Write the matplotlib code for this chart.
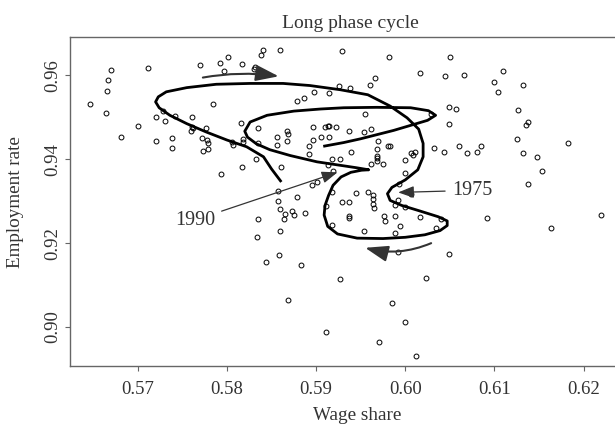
import matplotlib
matplotlib.use("Agg")
import matplotlib.pyplot as plt
from matplotlib.patches import ArrowStyle

plt.rcParams['font.family'] = ['Liberation Serif', 'DejaVu Serif']

# observed (wage share, employment rate) pairs
wage_share = [
    0.5647, 0.5670, 0.5667, 0.5666, 0.5664, 0.5681, 0.5700, 0.5711, 0.5721, 0.5721,
    0.5728, 0.5731, 0.5742, 0.5738, 0.5738, 0.5761, 0.5761, 0.5762, 0.5760, 0.5770,
    0.5777, 0.5772, 0.5778, 0.5779, 0.5779, 0.5773, 0.5784, 0.5793, 0.5792, 0.5801,
    0.5797, 0.5817, 0.5830, 0.5832, 0.5838, 0.5840, 0.5860, 0.5816, 0.5806, 0.5807,
    0.5818, 0.5818, 0.5835, 0.5835, 0.5833, 0.5817, 0.5861, 0.5857, 0.5857, 0.5879,
    0.5886, 0.5898, 0.5879, 0.5895, 0.5901, 0.5897, 0.5897, 0.5892, 0.5892, 0.5856,
    0.5856, 0.5867, 0.5868, 0.5867, 0.5859, 0.5873, 0.5865, 0.5875, 0.5887, 0.5835,
    0.5864, 0.5859, 0.5834, 0.5858, 0.5844, 0.5883, 0.5868, 0.5911, 0.5929, 0.5915,
    0.5926, 0.5906, 0.5910, 0.5913, 0.5915, 0.5922, 0.5914, 0.5918, 0.5927, 0.5919,
    0.5913, 0.5918, 0.5982, 0.6050, 0.6017, 0.6044, 0.6066, 0.5966, 0.5960, 0.5938,
    0.5955, 0.6029, 0.6049, 0.6057, 0.6049, 0.5937, 0.5954, 0.5962, 0.5969, 0.5939,
    0.5968, 0.5981, 0.5983, 0.5968, 0.5968, 0.5968, 0.5962, 0.5975, 0.6006, 0.6009,
    0.6011, 0.6000, 0.6000, 0.5993, 0.6006, 0.6032, 0.6043, 0.6060, 0.6069, 0.6080,
    0.6085, 0.5945, 0.5958, 0.5964, 0.5964, 0.5929, 0.5937, 0.5992, 0.6110, 0.6100,
    0.6132, 0.6104, 0.6126, 0.6138, 0.6135, 0.6125, 0.6183, 0.6132, 0.6148, 0.6153,
    0.6138, 0.5911, 0.5937, 0.5937, 0.5918, 0.5954, 0.5964, 0.5965, 0.5976, 0.5977,
    0.5988, 0.5988, 0.5994, 0.5988, 0.6000, 0.6016, 0.6035, 0.6040, 0.5992, 0.6049,
    0.6092, 0.6163, 0.6220, 0.5927, 0.6023, 0.5985, 0.6000, 0.5970, 0.6012,
]
employment_rate = [
    0.9533, 0.9613, 0.9590, 0.9564, 0.9511, 0.9453, 0.9480, 0.9617, 0.9500, 0.9444,
    0.9515, 0.9491, 0.9504, 0.9451, 0.9428, 0.9500, 0.9477, 0.9475, 0.9468, 0.9624,
    0.9474, 0.9451, 0.9447, 0.9438, 0.9424, 0.9419, 0.9533, 0.9364, 0.9630, 0.9643,
    0.9611, 0.9627, 0.9616, 0.9620, 0.9648, 0.9660, 0.9660, 0.9487, 0.9442, 0.9435,
    0.9448, 0.9442, 0.9474, 0.9440, 0.9401, 0.9382, 0.9381, 0.9325, 0.9301, 0.9538,
    0.9546, 0.9561, 0.9311, 0.9339, 0.9345, 0.9477, 0.9447, 0.9432, 0.9413, 0.9454,
    0.9434, 0.9467, 0.9460, 0.9444, 0.9281, 0.9277, 0.9270, 0.9267, 0.9271, 0.9258,
    0.9258, 0.9228, 0.9215, 0.9172, 0.9154, 0.9148, 0.9065, 0.8989, 0.9658, 0.9558,
    0.9575, 0.9454, 0.9477, 0.9479, 0.9480, 0.9477, 0.9454, 0.9401, 0.9401, 0.9371,
    0.9387, 0.9321, 0.9644, 0.9644, 0.9607, 0.9598, 0.9600, 0.9594, 0.9577, 0.9570,
    0.9507, 0.9507, 0.9524, 0.9521, 0.9484, 0.9468, 0.9464, 0.9472, 0.9444, 0.9417,
    0.9424, 0.9431, 0.9431, 0.9409, 0.9404, 0.9397, 0.9388, 0.9388, 0.9414, 0.9411,
    0.9418, 0.9398, 0.9367, 0.9341, 0.9317, 0.9428, 0.9418, 0.9431, 0.9414, 0.9418,
    0.9432, 0.9319, 0.9323, 0.9316, 0.9305, 0.9298, 0.9298, 0.9304, 0.9610, 0.9585,
    0.9578, 0.9561, 0.9518, 0.9488, 0.9481, 0.9448, 0.9438, 0.9415, 0.9405, 0.9371,
    0.9341, 0.9289, 0.9264, 0.9261, 0.9244, 0.9228, 0.9294, 0.9284, 0.9265, 0.9252,
    0.9291, 0.9264, 0.9241, 0.9224, 0.9286, 0.9262, 0.9237, 0.9258, 0.9178, 0.9175,
    0.9261, 0.9235, 0.9268, 0.9114, 0.9118, 0.9058, 0.9012, 0.8965, 0.8931,
]

# smoothed long-phase trajectory
path_wage = [
    0.5861, 0.5850, 0.5841, 0.5822, 0.5800, 0.5777, 0.5755, 0.5736, 0.5724, 0.5720,
    0.5723, 0.5732, 0.5755, 0.5788, 0.5826, 0.5863, 0.5893, 0.5927, 0.5958, 0.5983,
    0.6002, 0.6015, 0.6020, 0.6020, 0.6014, 0.6000, 0.5985, 0.5980, 0.5983, 0.5996,
    0.6016, 0.6037, 0.6047, 0.6047, 0.6039, 0.6022, 0.6000, 0.5975, 0.5946, 0.5924,
    0.5913, 0.5909, 0.5910, 0.5914, 0.5919, 0.5928, 0.5939, 0.5951, 0.5959, 0.5945,
    0.5923, 0.5901, 0.5871, 0.5848, 0.5833, 0.5823, 0.5820, 0.5826, 0.5845, 0.5875,
    0.5905, 0.5931, 0.5968, 0.6006, 0.6026, 0.6034, 0.6025, 0.5987, 0.5950, 0.5931,
    0.5908,
]
path_empl = [
    0.9346, 0.9377, 0.9406, 0.9430, 0.9446, 0.9465, 0.9485, 0.9505, 0.9523, 0.9537,
    0.9549, 0.9561, 0.9571, 0.9579, 0.9581, 0.9581, 0.9576, 0.9566, 0.9554, 0.9527,
    0.9499, 0.9472, 0.9438, 0.9406, 0.9375, 0.9351, 0.9333, 0.9318, 0.9302, 0.9290,
    0.9277, 0.9263, 0.9253, 0.9242, 0.9230, 0.9220, 0.9214, 0.9211, 0.9212, 0.9222,
    0.9240, 0.9267, 0.9290, 0.9314, 0.9338, 0.9358, 0.9369, 0.9374, 0.9375, 0.9380,
    0.9387, 0.9394, 0.9409, 0.9423, 0.9437, 0.9453, 0.9467, 0.9489, 0.9505, 0.9515,
    0.9520, 0.9523, 0.9524, 0.9523, 0.9516, 0.9505, 0.9493, 0.9469, 0.9449, 0.9440,
    0.9431,
]

x_ticks = [0.57, 0.58, 0.59, 0.60, 0.61, 0.62]
y_ticks = [0.90, 0.92, 0.94, 0.96]

# annotations: (label, text position, arrow target)
labels = [
    ('1975', (0.6075, 0.9326), (0.5992, 0.9321)),
    ('1990', (0.5764, 0.9255), (0.5924, 0.9369)),
]
# direction arrows: (start, end, curvature)
direction_arrows = [
    ((0.5773, 0.9595), (0.5858, 0.9598), -0.08),
    ((0.6029, 0.9200), (0.5955, 0.9189), -0.17),
]

txt = '#333333'
fig = plt.figure(figsize=(6.15, 4.25), dpi=100)
ax = fig.add_axes([0.1138, 0.1388, 0.9106, 0.7734])

ax.plot(wage_share, employment_rate, 'o', ms=3.5, mfc='none', mec='black', mew=0.7, zorder=2)
ax.plot(path_wage, path_empl, color='black', lw=2.0, solid_joinstyle='round',
        solid_capstyle='butt', zorder=3)

head = ArrowStyle('-|>', head_length=0.8, head_width=0.3)
for label, pos, target in labels:
    ax.annotate(label, xy=target, xytext=pos, ha='center', va='center', fontsize=14.5,
                color=txt,
                arrowprops=dict(arrowstyle=head, mutation_scale=12, color='#333333', lw=0.9,
                                shrinkA=3, shrinkB=0))

big_head = ArrowStyle('-|>', head_length=1.0, head_width=0.35)
for start, end, rad in direction_arrows:
    ax.annotate('', xy=end, xytext=start,
                arrowprops=dict(arrowstyle=big_head, mutation_scale=14, color='#333333', lw=1.5,
                                shrinkA=0, shrinkB=0, connectionstyle=f'arc3,rad={rad}'))

ax.set_xlim(0.5624, 0.6252)
ax.set_ylim(0.8907, 0.9691)
ax.set_xticks(x_ticks)
ax.set_xticklabels([f'{v:.2f}' for v in x_ticks])
ax.set_yticks(y_ticks)
ax.set_yticklabels([f'{v:.2f}' for v in y_ticks])

for side in ['left', 'bottom', 'top', 'right']:
    ax.spines[side].set_color('#666666')
    ax.spines[side].set_linewidth(1.0)

ax.tick_params(axis='both', direction='out', length=3.5, width=0.8, color='#666666',
               labelcolor=txt, labelsize=13.5)
ax.tick_params(axis='x', pad=7)
ax.tick_params(axis='y', pad=3, labelrotation=90)
for t in ax.get_yticklabels():
    t.set_va('center')

ax.set_title('Long phase cycle', fontsize=14, color=txt, pad=7)
ax.set_xlabel('Wage share', fontsize=13.8, color=txt)
ax.xaxis.set_label_coords(0.5125, -0.125)
ax.set_ylabel('Employment rate', fontsize=13.8, color=txt)
ax.yaxis.set_label_coords(-0.082, 0.5)

fig.savefig('out.png', dpi=100)
